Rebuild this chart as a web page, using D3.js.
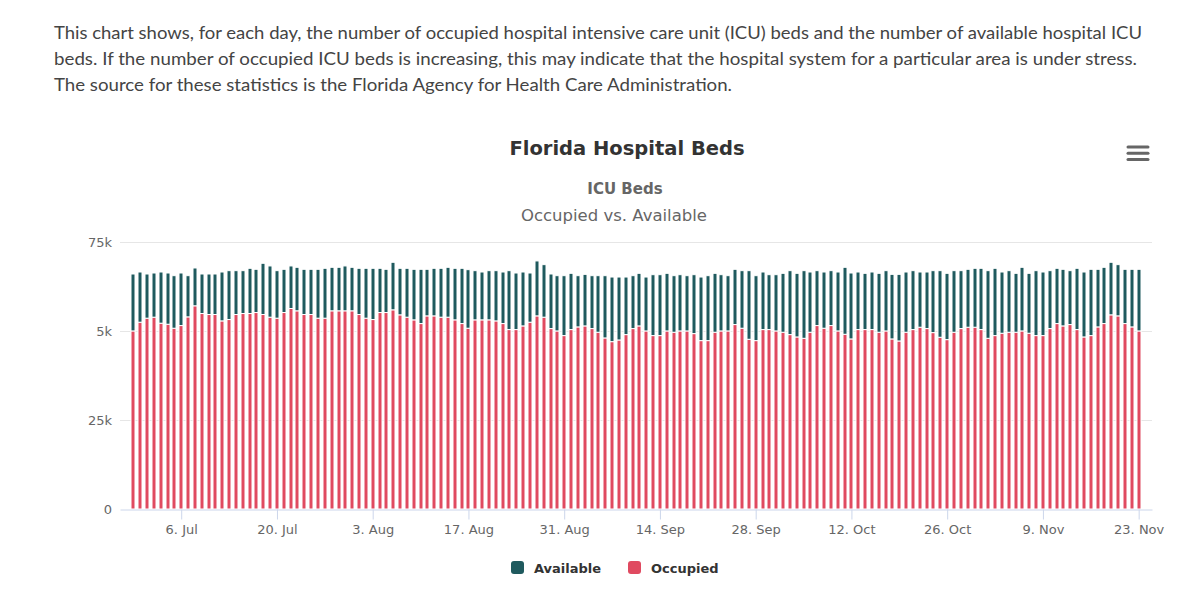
<!DOCTYPE html>
<html><head><meta charset="utf-8">
<script src="https://cdn.jsdelivr.net/npm/d3@7"></script>
<style>body{margin:0;background:#fff;} svg{display:block}</style>
</head><body><svg id="c" width="1200" height="607"></svg>
<script>
const introLines = [
  "This chart shows, for each day, the number of occupied hospital intensive care unit (ICU) beds and the number of available hospital ICU",
  "beds. If the number of occupied ICU beds is increasing, this may indicate that the hospital system for a particular area is under stress.",
  "The source for these statistics is the Florida Agency for Health Care Administration."
];
const introWidths = [1088, 1083, 678];
const chartTitle = "Florida Hospital Beds";
const subtitle1 = "ICU Beds";
const subtitle2 = "Occupied vs. Available";
const startDate = "2020-06-29";
const occupied = [
50020,52470,53600,53880,52190,51900,50780,51530,53970,57080,
54910,54630,54630,52840,53220,54630,54910,54910,55190,54630,
53880,53600,55190,56320,55670,54630,54630,53600,53600,55670,
55670,55670,55670,54630,53600,53220,55190,55190,55950,54540,
53880,53130,52090,54250,54250,53880,53880,53130,52090,50780,
53130,53130,53130,52840,52090,50400,50400,51430,52470,54250,
53880,50680,50020,48710,50400,51150,51430,50680,49650,48050,
47010,47480,48990,50680,51430,50020,48710,48710,50020,49650,
50020,50020,49270,47300,47300,49650,50020,50020,51810,50780,
47670,47300,50400,50400,50020,49650,48990,48330,47950,49650,
51530,50780,51530,50020,49080,47770,50400,50400,50400,49650,
50020,47770,47200,49650,50400,51060,50680,49550,48240,47580,
49650,50680,51060,51060,50400,47950,48710,49370,49650,49650,
50020,49370,48710,48710,50680,52090,51430,51810,50400,48330,
48710,51150,52090,54540,54250,52090,51150,50020
];
const available = [
15990,14100,12410,12410,14380,14390,14760,14760,11570,10620,
11100,11380,11380,13730,13730,12320,12040,12700,12140,14390,
14390,13350,12140,11950,12220,12700,12700,13730,14010,12220,
12220,12600,12220,12980,14010,14390,12420,12140,13350,13070,
13730,14200,15240,13080,13360,13730,14010,14480,15520,16450,
13820,13440,13820,14110,14480,16550,15890,15140,13820,15430,
14760,15330,15520,16830,15800,14390,14480,14860,15890,17490,
18150,17680,16170,14860,14770,15140,17110,17110,16180,15890,
15800,15520,16550,17860,18240,16550,15800,15520,15520,16170,
19280,18240,16170,15420,15800,16550,17960,17870,19000,16920,
15420,15790,15420,16550,18810,18520,16170,15800,16170,16550,
16930,18140,18710,16920,16550,15510,15890,17400,18710,18620,
17300,16270,16270,16550,17210,19000,18900,17200,17300,16550,
17870,16830,18240,17860,16270,15520,15900,15140,17210,18240,
18620,16180,15800,14760,14390,15240,16180,17310
];
const tickDates = ["2020-07-06","2020-07-20","2020-08-03","2020-08-17","2020-08-31","2020-09-14","2020-09-28","2020-10-12","2020-10-26","2020-11-09","2020-11-23"];
const tickLabels = ["6. Jul","20. Jul","3. Aug","17. Aug","31. Aug","14. Sep","28. Sep","12. Oct","26. Oct","9. Nov","23. Nov"];
const yTicks = [0, 25000, 50000, 75000];
const yTickLabels = ["0", "25k", "5k", "75k"];
const seriesNames = ["Available", "Occupied"];
const seriesColors = ["#1f5a5e", "#e04a60"];

const DAY = 86400000;
const start = new Date(startDate + "T00:00:00Z");
const rows = occupied.map((o, i) => ({date: new Date(start.getTime() + i * DAY), Occupied: o, Available: available[i]}));

const svg = d3.select("#c");
const chartFont = "'DejaVu Sans', sans-serif";

// Intro paragraph
svg.append("g").selectAll("text").data(introLines).join("text")
  .attr("x", 54).attr("y", (d, i) => 39 + i * 26)
  .attr("font-family", "Lato, sans-serif").attr("font-size", 18)
  .attr("fill", "#444")
  .attr("textLength", (d, i) => introWidths[i]).attr("lengthAdjust", "spacingAndGlyphs")
  .text(d => d);

// Titles
svg.append("text").attr("x", 627).attr("y", 155).attr("text-anchor", "middle")
  .attr("font-family", chartFont).attr("font-size", 19.5).attr("font-weight", "bold").attr("fill", "#333")
  .text(chartTitle);
svg.append("text").attr("x", 625).attr("y", 194).attr("text-anchor", "middle")
  .attr("font-family", chartFont).attr("font-size", 15).attr("font-weight", "bold").attr("fill", "#666")
  .text(subtitle1);
svg.append("text").attr("x", 614).attr("y", 221).attr("text-anchor", "middle")
  .attr("font-family", chartFont).attr("font-size", 16.5).attr("fill", "#666")
  .text(subtitle2);

// Menu icon
svg.append("g").selectAll("line").data([0, 1, 2]).join("line")
  .attr("x1", 1128).attr("x2", 1148)
  .attr("y1", d => 147 + d * 6.3).attr("y2", d => 147 + d * 6.3)
  .attr("stroke", "#666").attr("stroke-width", 3).attr("stroke-linecap", "round");

// Scales
const x = d3.scaleUtc()
  .domain([new Date(rows[0].date.getTime() - 1.95 * DAY), new Date(rows[rows.length - 1].date.getTime() + 1.95 * DAY)])
  .range([120, 1152]);
const y = d3.scaleLinear().domain([0, 75000]).range([509, 242]);

// Grid
svg.append("g").selectAll("line").data(yTicks.filter(v => v > 0)).join("line")
  .attr("x1", 120).attr("x2", 1152)
  .attr("y1", d => Math.round(y(d)) + 0.5).attr("y2", d => Math.round(y(d)) + 0.5)
  .attr("stroke", "#e6e6e6").attr("stroke-width", 1);

// Y labels
svg.append("g").selectAll("text").data(yTicks).join("text")
  .attr("x", 112).attr("y", d => y(d)).attr("dy", "0.35em").attr("text-anchor", "end")
  .attr("font-family", chartFont).attr("font-size", 13).attr("fill", "#666")
  .text((d, i) => yTickLabels[i]);

// Bars
const stack = d3.stack().keys(["Occupied", "Available"]);
const layers = stack(rows);
const colorOf = {Available: seriesColors[0], Occupied: seriesColors[1]};
svg.append("g").selectAll("g").data(layers).join("g")
  .attr("fill", d => colorOf[d.key])
  .selectAll("rect").data(d => d).join("rect")
  .attr("x", d => Math.round(x(d.data.date)) - 2)
  .attr("width", 4)
  .attr("y", d => y(d[1]))
  .attr("height", d => y(d[0]) - y(d[1]))
  .attr("stroke", "#fff").attr("stroke-width", 1);

// X axis
const xAxis = d3.axisBottom(x)
  .tickValues(tickDates.map(s => new Date(s + "T00:00:00Z")))
  .tickFormat((d, i) => tickLabels[i])
  .tickSize(10).tickSizeOuter(0).tickPadding(5);
const gx = svg.append("g").attr("transform", "translate(0,509.5)").call(xAxis);
gx.select(".domain").attr("stroke", "#ccd6eb");
gx.selectAll(".tick line").attr("stroke", "#ccd6eb");
gx.selectAll(".tick text").attr("fill", "#666").attr("font-family", chartFont).attr("font-size", 13);

// Legend
const legend = svg.append("g").selectAll("g").data(seriesNames).join("g")
  .attr("transform", (d, i) => `translate(${i === 0 ? 511 : 628},561)`);
legend.append("rect").attr("width", 13).attr("height", 13).attr("rx", 3)
  .attr("fill", (d, i) => seriesColors[i]);
legend.append("text").attr("x", 23).attr("y", 12)
  .attr("font-family", chartFont).attr("font-size", 13).attr("font-weight", "bold").attr("fill", "#333")
  .text(d => d);
</script></body></html>
